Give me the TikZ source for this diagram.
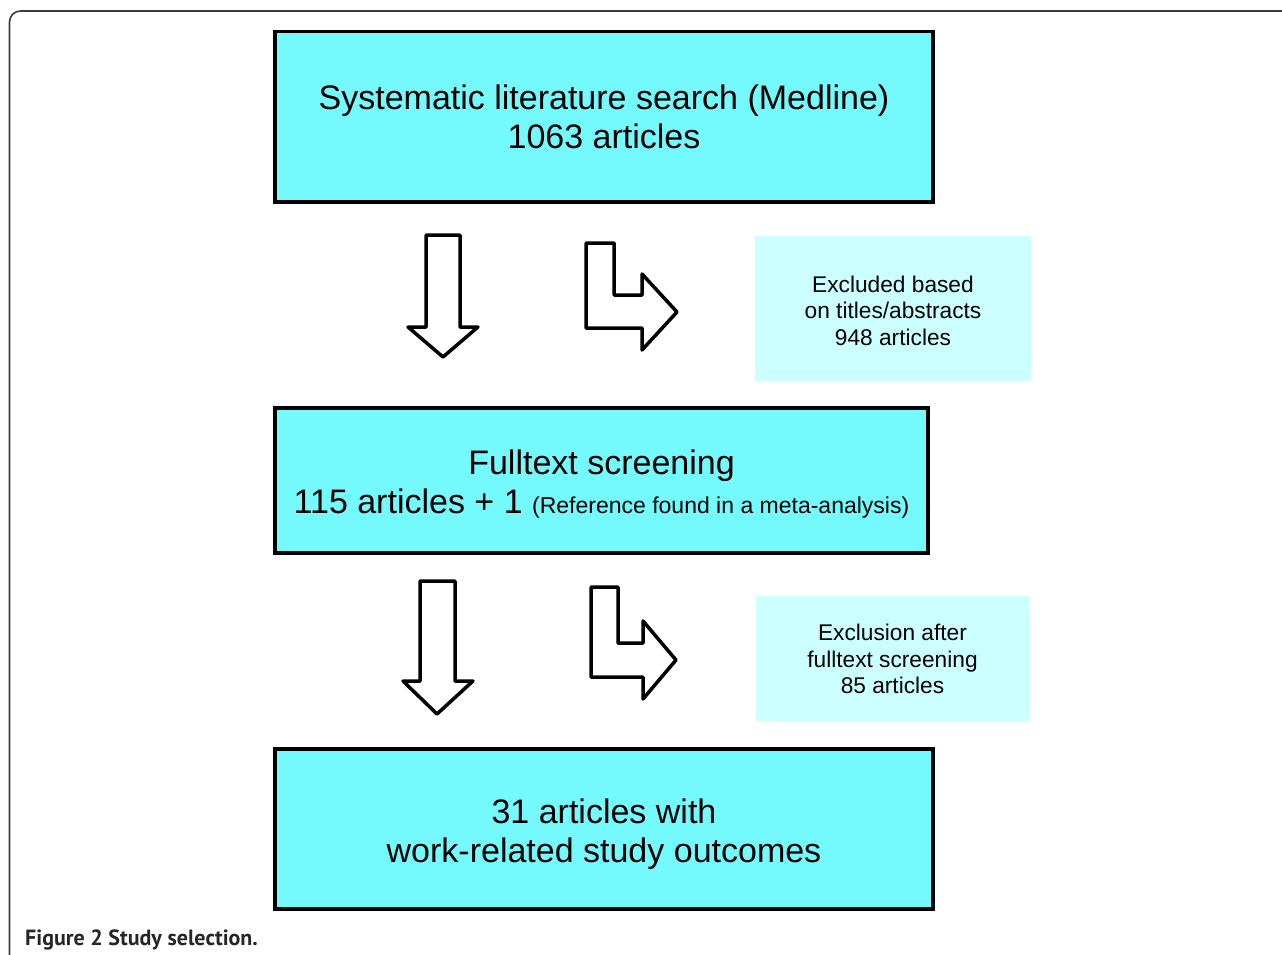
\documentclass[tikz,border=0pt]{standalone}
\usepackage{fontspec}
\setmainfont{Liberation Sans}
\newfontfamily\capfont{PT Sans}
\definecolor{mainfill}{RGB}{116,249,252}
\definecolor{lightfill}{RGB}{204,255,255}
\definecolor{framegray}{RGB}{60,60,60}
\begin{document}
\begin{tikzpicture}[x=1pt,y=-1pt,
  mainbox/.style={draw=black, line width=3.5pt, fill=mainfill, inner sep=0pt},
  maintext/.style={align=center, font=\fontsize{34}{39}\selectfont, inner sep=0pt},
  sidebox/.style={fill=lightfill, inner sep=0pt},
  sidetext/.style={align=center, font=\fontsize{22.7}{26.5}\selectfont, inner sep=0pt},
  blockarrow/.style={draw=black, line width=3.5pt, line join=round, fill=white}]
\useasboundingbox (0,0) rectangle (1282,954);
\fill[white] (0,0) rectangle (1282,954);
% frame
\draw[framegray, line width=1.6pt, rounded corners=11pt] (9.5,970) -- (9.5,11) -- (1300,11);
% main boxes
\node[mainbox, minimum width=658pt, minimum height=170.5pt] (b1) at (604,116.75) {};
\node[maintext] (t1) at (604,117) {Systematic literature search (Medline)\\1063 articles};
\node[mainbox, minimum width=653pt, minimum height=145pt] (b2) at (601.5,480.5) {};
\node[maintext] (t2) at (601.5,484) {Fulltext screening\\115 articles + 1 {\fontsize{23}{26}\selectfont(Reference found in a meta-analysis)}};
\node[mainbox, minimum width=658pt, minimum height=160pt] (b3) at (604,829) {};
\node[maintext] (t3) at (604,834) {31 articles with\\work-related study outcomes};
% side boxes
\node[sidebox, minimum width=276pt, minimum height=145pt] (s1) at (893,308.5) {};
\node[sidetext] (u1) at (893,310.5) {Excluded based\\on titles/abstracts\\948 articles};
\node[sidebox, minimum width=273pt, minimum height=125pt] (s2) at (892.5,658.5) {};
\node[sidetext] (u2) at (892.5,659) {Exclusion after\\fulltext screening\\85 articles};
% block arrows (first stage)
\draw[blockarrow] (426,235) -- (460,235) -- (460,327) -- (478,327) -- (443,357) -- (408,327) -- (426,327) -- cycle;
\draw[blockarrow] (586,243) -- (614,243) -- (614,295) -- (642,295) -- (642,274) -- (677,312) -- (642,350) -- (642,328) -- (586,328) -- cycle;
% block arrows (second stage)
\draw[blockarrow] (420,581) -- (455,581) -- (455,681) -- (473,681) -- (437,714) -- (403,681) -- (420,681) -- cycle;
\draw[blockarrow] (591,587) -- (618,587) -- (618,643) -- (643,643) -- (643,621) -- (676,660) -- (643,699) -- (643,677) -- (591,677) -- cycle;
% caption
\node[anchor=base west, inner sep=0pt, font=\capfont\bfseries\fontsize{22}{26}\selectfont, text=black!85] (cap) at (25,945) {Figure 2 Study selection.};
\end{tikzpicture}
\end{document}
